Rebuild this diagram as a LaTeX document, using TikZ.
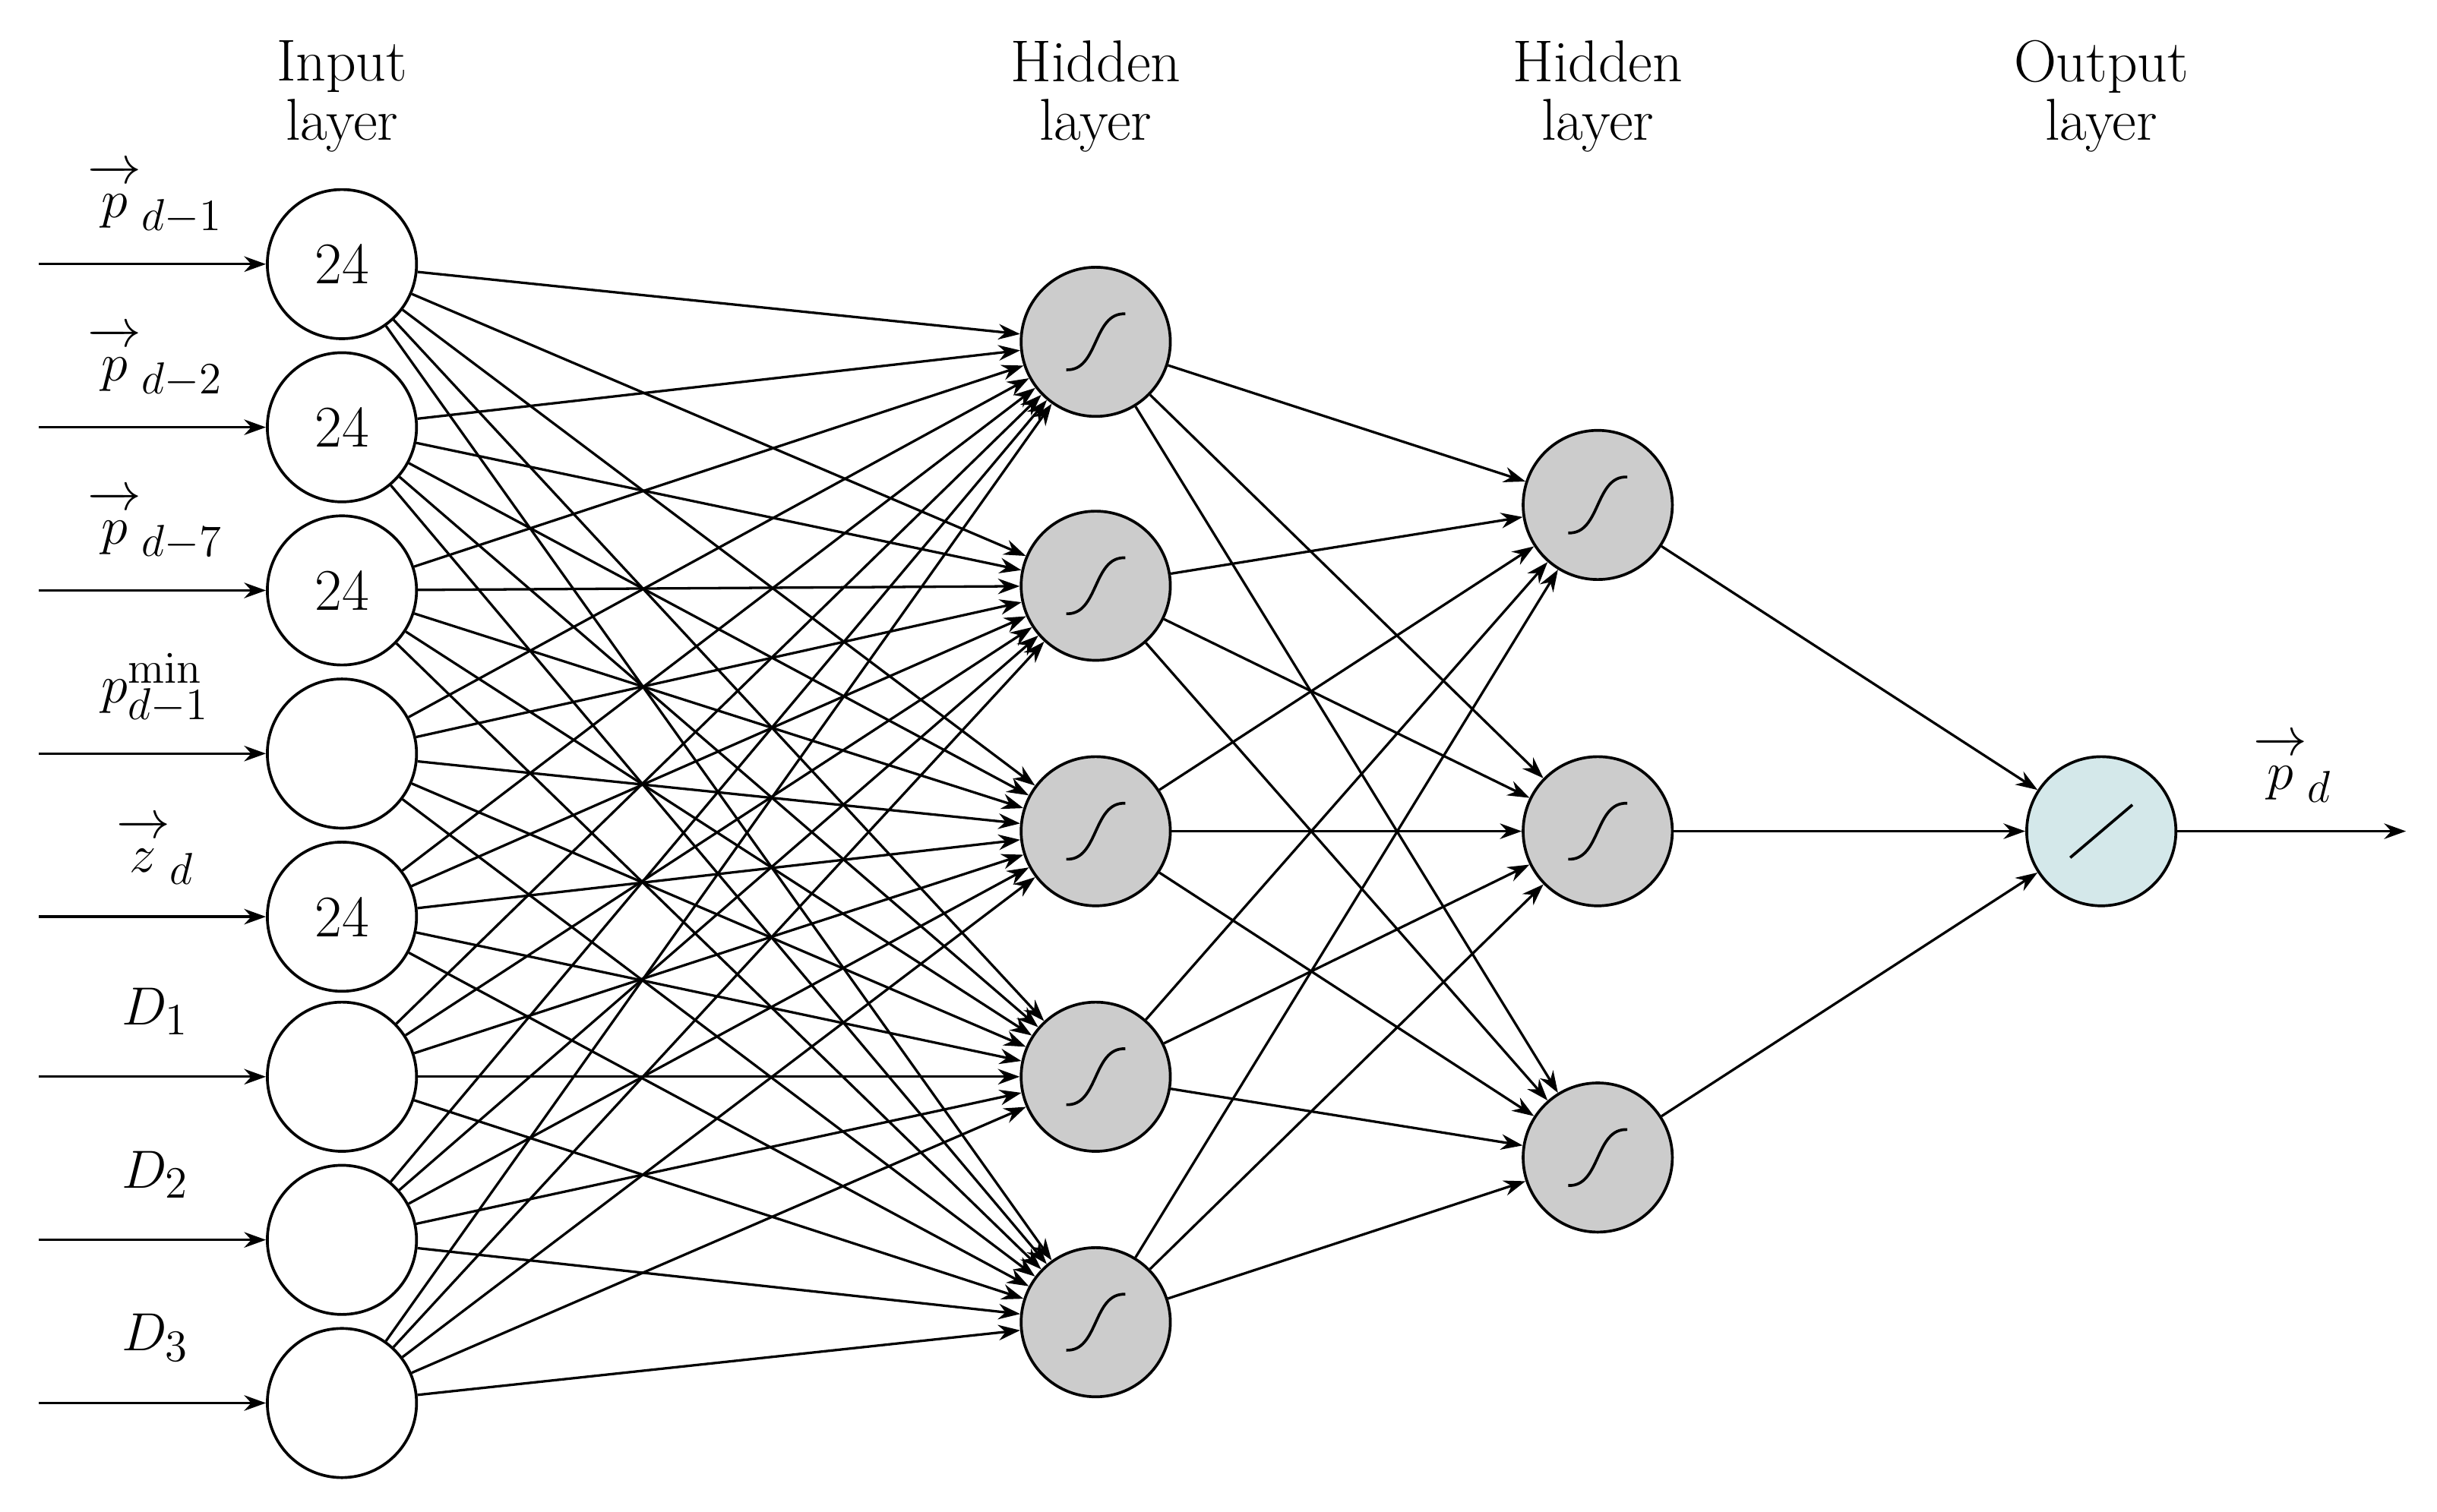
\documentclass[tikz,border=0pt]{standalone}
\usetikzlibrary{arrows.meta}
\begin{document}
\begin{tikzpicture}[x=0.5pt,y=-0.5pt,
  neuron/.style={circle,draw,line width=0.9pt,minimum size=48pt,inner sep=0pt,font=\fontsize{19}{22}\selectfont},
  inp/.style={neuron,fill=white},
  hid/.style={neuron,fill=black!20},
  neu/.style={neuron},
  conn/.style={line width=0.8pt,-{Stealth[length=7pt,width=5pt]}},
  lab/.style={font=\fontsize{19}{22}\selectfont},
  head/.style={font=\fontsize{19}{19}\selectfont,align=center}]
\useasboundingbox (0,0) rectangle (1568,973);
\definecolor{outfill}{RGB}{212,232,234}
% input layer
\foreach \i/\y/\t in {1/170/24,2/275/24,3/380/24,4/485/{},5/590/24,6/693/{},7/798/{},8/903/{}}
  \node[inp] (i\i) at (220,\y) {\t};
\foreach \j/\y in {1/220,2/377,3/535,4/693,5/851}{
  \node[hid] (h\j) at (705,\y) {};
  \draw[line width=0.9pt] ([shift={(-19,18)}]h\j.center) .. controls ([shift={(2,19)}]h\j.center) and ([shift={(-2,-19)}]h\j.center) .. ([shift={(19,-18)}]h\j.center);}
\foreach \k/\y in {1/325,2/535,3/745}{
  \node[hid] (g\k) at (1028,\y) {};
  \draw[line width=0.9pt] ([shift={(-19,18)}]g\k.center) .. controls ([shift={(2,19)}]g\k.center) and ([shift={(-2,-19)}]g\k.center) .. ([shift={(19,-18)}]g\k.center);}
\node[neu,fill=outfill] (o) at (1352,535) {};
\draw[line width=0.9pt] ([shift={(-20,17)}]o.center) -- ([shift={(20,-17)}]o.center);
% headers
\node[head] (t1) at (220,62) {Input\\layer};
\node[head] (t2) at (705,62) {Hidden\\layer};
\node[head] (t3) at (1028,62) {Hidden\\layer};
\node[head] (t4) at (1352,62) {Output\\layer};
% input arrows
\foreach \i/\y/\l in {1/170/{\overrightarrow{\vphantom{b}p}_{d-1}},2/275/{\overrightarrow{\vphantom{b}p}_{d-2}},3/380/{\overrightarrow{\vphantom{b}p}_{d-7}},4/485/{p_{d-1}^{\min}},5/590/{\overrightarrow{\vphantom{b}z}_{d}},6/693/{D_1},7/798/{D_2},8/903/{D_3}}{
  \coordinate (s\i) at (25,\y);
  \draw[conn] (s\i) -- (i\i);
  \node[lab] (l\i) at (100,\y-42) {$\l$};}
% connections
\foreach \i in {1,...,8}\foreach \j in {1,...,5} \draw[conn] (i\i) -- (h\j);
\foreach \j in {1,...,5}\foreach \k in {1,2,3} \draw[conn] (h\j) -- (g\k);
\foreach \k in {1,2,3} \draw[conn] (g\k) -- (o);
\coordinate (e) at (1548,535);
\draw[conn] (o) -- (e);
\node[lab] (lo) at (1475,495) {$\overrightarrow{\vphantom{b}p}_{d}$};
\end{tikzpicture}
\end{document}
